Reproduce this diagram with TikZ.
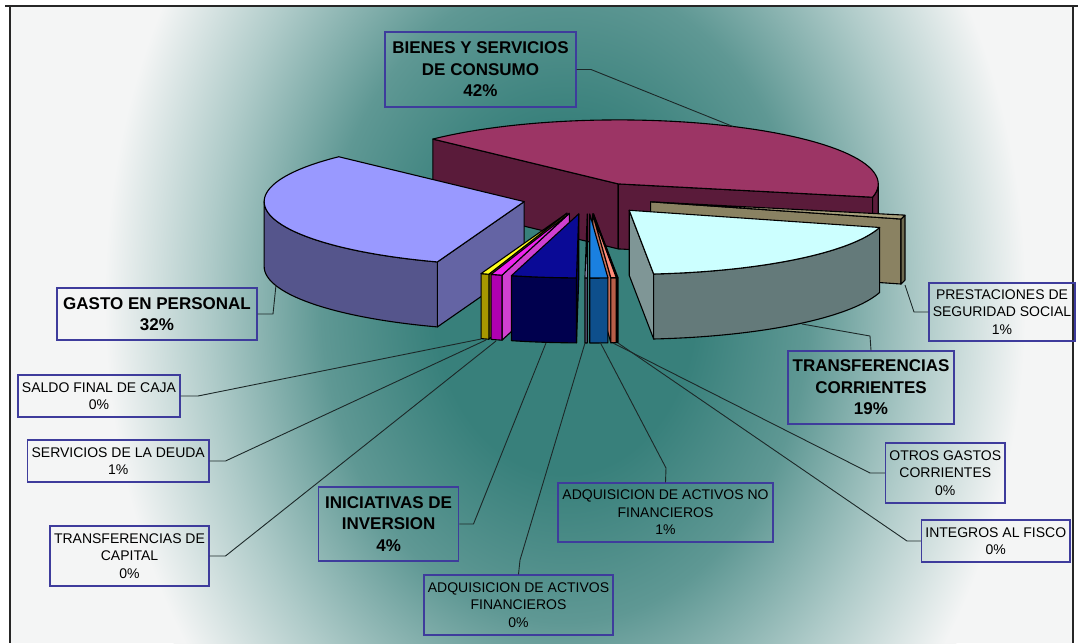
\documentclass[tikz,border=0pt]{standalone}
\usepackage{fontspec}
\setmainfont{Liberation Sans}
\usetikzlibrary{calc}

\definecolor{tealA}{RGB}{56,128,123}
\definecolor{tealB}{RGB}{95,152,148}
\definecolor{tealC}{RGB}{175,203,201}
\definecolor{bgW}{RGB}{244,245,245}
\definecolor{boxc}{RGB}{62,60,156}
\definecolor{leadc}{RGB}{28,40,40}

\pgfdeclareradialshading{bgshade}{\pgfpoint{0bp}{0bp}}{%
 color(0bp)=(tealA); color(7bp)=(tealA); color(13bp)=(tealB); color(19bp)=(tealC); color(24.5bp)=(bgW); color(50bp)=(bgW)}

% lilac
\definecolor{liTop}{HTML}{9999FF}\definecolor{liArc}{HTML}{55558C}\definecolor{liRad}{HTML}{6464A4}
% magenta
\definecolor{maTop}{HTML}{9C3565}\definecolor{maArc}{HTML}{5C1C3B}\definecolor{maRad}{HTML}{5A1B3A}
% tan
\definecolor{taTop}{HTML}{A8A07C}\definecolor{taArc}{HTML}{6E6A50}\definecolor{taRad}{HTML}{8A8262}
% cyan
\definecolor{cyTop}{HTML}{CCFFFF}\definecolor{cyArc}{HTML}{647A7A}\definecolor{cyRad}{HTML}{7F9696}
% integros
\definecolor{inTop}{HTML}{660066}\definecolor{inArc}{HTML}{3C003C}\definecolor{inRad}{HTML}{4A004A}
% otros
\definecolor{otTop}{HTML}{FF8C78}\definecolor{otArc}{HTML}{B85E48}\definecolor{otRad}{HTML}{C8705A}
% adq no fin
\definecolor{anTop}{HTML}{1A80E0}\definecolor{anArc}{HTML}{0E4F8C}\definecolor{anRad}{HTML}{0E5A9E}
% adq fin
\definecolor{afTop}{HTML}{CCCCFF}\definecolor{afArc}{HTML}{707098}\definecolor{afRad}{HTML}{8080B0}
% iniciativas
\definecolor{nvTop}{HTML}{0A0A96}\definecolor{nvArc}{HTML}{00004E}\definecolor{nvRad}{HTML}{000068}
% transf capital
\definecolor{pkTop}{HTML}{EE22EE}\definecolor{pkArc}{HTML}{B000B0}\definecolor{pkRad}{HTML}{D040D0}
% servicios deuda
\definecolor{ylTop}{HTML}{FFFF20}\definecolor{ylArc}{HTML}{A89800}\definecolor{ylRad}{HTML}{6E6400}

\tikzset{
  face/.style={draw=black, line width=1.1pt, line join=round},
  lbl/.style={draw=boxc, line width=1.3pt, align=center, inner sep=0pt,
              font=\fontsize{14}{17.5}\selectfont, text=black},
  blbl/.style={lbl, font=\fontsize{17}{21.5}\selectfont\bfseries},
  leader/.style={draw=leadc, line width=0.9pt},
  frameline/.style={draw=black!85, line width=1.8pt}
}

% #1 start angle, #2 end angle (screen angles, y down), #3 top, #4 arc face, #5 radius face
\newcommand{\pieslice}[5]{%
  \pgfmathsetmacro{\slM}{(#1+#2)/2}%
  \pgfmathsetmacro{\slCX}{587.5+65*cos(\slM)}%
  \pgfmathsetmacro{\slCY}{198+16*sin(\slM)}%
  \pgfmathtruncatemacro{\visS}{cos(#1)<0 ? 1 : 0}%
  \pgfmathtruncatemacro{\visE}{cos(#2)>0 ? 1 : 0}%
  \pgfmathsetmacro{\arcA}{max(#1,0)}%
  \pgfmathsetmacro{\arcB}{min(#2,180)}%
  \pgfmathtruncatemacro{\visA}{\arcB>\arcA ? 1 : 0}%
  \ifnum\visS=1
    \draw[face,fill=#5] (\slCX,\slCY) -- ({\slCX+260*cos(#1)},{\slCY+64*sin(#1)}) -- ++(0,65) -- (\slCX,{\slCY+65}) -- cycle;
  \fi
  \ifnum\visE=1
    \draw[face,fill=#5] (\slCX,\slCY) -- ({\slCX+260*cos(#2)},{\slCY+64*sin(#2)}) -- ++(0,65) -- (\slCX,{\slCY+65}) -- cycle;
  \fi
  \ifnum\visA=1
    \draw[face,fill=#4] plot[domain=\arcA:\arcB,samples=40,variable=\q] ({\slCX+260*cos(\q)},{\slCY+64*sin(\q)})
       -- plot[domain=\arcB:\arcA,samples=40,variable=\q] ({\slCX+260*cos(\q)},{\slCY+65+64*sin(\q)}) -- cycle;
  \fi
  \draw[face,fill=#3] (\slCX,\slCY) -- plot[domain=#1:#2,samples=60,variable=\q] ({\slCX+260*cos(\q)},{\slCY+64*sin(\q)}) -- cycle;
}

\begin{document}
\begin{tikzpicture}[x=1pt,y=-1pt]
\useasboundingbox (0,0) rectangle (1078,643);
\fill[white] (0,0) rectangle (1078,643);

% background gradient
\begin{scope}
  \clip (10,6) rectangle (1073,643);
  \fill[bgW] (10,6) rectangle (1073,643);
  \shade[shading=bgshade] (565,300) ellipse [x radius=470, y radius=620];
\end{scope}

% frame
\draw[frameline] (5,6) -- (1078,6);
\draw[frameline] (10,6) -- (10,643);
\draw[frameline, line width=1.4pt] (1073,6) -- (1073,643);

% pie slices, back to front
\pieslice{-135.5}{12}{maTop}{maArc}{maRad}      % Bienes y servicios
\pieslice{109.5}{224.5}{liTop}{liArc}{liRad}    % Gasto en personal
\pieslice{12}{15.6}{taTop}{taArc}{taRad}        % Prestaciones
\pieslice{15.6}{84.6}{cyTop}{cyArc}{cyRad}      % Transferencias corrientes
\pieslice{107.5}{109.3}{ylTop}{ylArc}{ylRad}    % Servicios de la deuda
\pieslice{105}{107.5}{pkTop}{pkArc}{pkRad}      % Transferencias de capital
\pieslice{90.5}{105}{nvTop}{nvArc}{nvRad}       % Iniciativas de inversion
\pieslice{84.6}{84.8}{inTop}{inArc}{inRad}      % Integros al fisco
\pieslice{84.8}{86}{otTop}{otArc}{otRad}        % Otros gastos corrientes
\pieslice{86}{90}{anTop}{anArc}{anRad}          % Adq. activos no financieros
\pieslice{90}{90.5}{afTop}{afArc}{afRad}        % Adq. activos financieros

% labels
\node[blbl, minimum width=191pt, minimum height=75pt] (bienes) at (480.5,69.5) {BIENES Y SERVICIOS\\DE CONSUMO\\42\%};
\node[blbl, minimum width=200pt, minimum height=52pt] (gasto) at (157,314) {GASTO EN PERSONAL\\32\%};
\node[blbl, minimum width=166pt, minimum height=73pt] (tcorr) at (871,387.5) {TRANSFERENCIAS\\CORRIENTES\\19\%};
\node[lbl, minimum width=146pt, minimum height=58pt] (prest) at (1002,312) {PRESTACIONES DE\\SEGURIDAD SOCIAL\\1\%};
\node[lbl, minimum width=162pt, minimum height=42pt] (saldo) at (99,396) {SALDO FINAL DE CAJA\\0\%};
\node[lbl, minimum width=181.5pt, minimum height=42pt] (serv) at (118.2,461) {SERVICIOS DE LA DEUDA\\1\%};
\node[lbl, minimum width=159pt, minimum height=60pt] (tcap) at (129.5,556) {TRANSFERENCIAS DE\\CAPITAL\\0\%};
\node[blbl, minimum width=140pt, minimum height=74pt] (inic) at (388.6,524) {INICIATIVAS DE\\INVERSION\\4\%};
\node[lbl, minimum width=189pt, minimum height=60pt] (adqf) at (518.5,605) {ADQUISICION DE ACTIVOS\\FINANCIEROS\\0\%};
\node[lbl, minimum width=215pt, minimum height=59pt] (adqnf) at (665.5,512.5) {ADQUISICION DE ACTIVOS NO\\FINANCIEROS\\1\%};
\node[lbl, minimum width=119.4pt, minimum height=60pt] (otros) at (945.3,473) {OTROS GASTOS\\CORRIENTES\\0\%};
\node[lbl, minimum width=148.4pt, minimum height=42pt] (integ) at (995.8,541) {INTEGROS AL FISCO\\0\%};

% leader points
\coordinate (bienesK) at (591,69.5);   \coordinate (bienesP) at (733,126.5);
\coordinate (gastoK) at (273,314);     \coordinate (gastoP) at (276,285);
\coordinate (tcorrK) at (870,336);     \coordinate (tcorrP) at (802,324);
\coordinate (prestK) at (914,312);     \coordinate (prestP) at (905,285);
\coordinate (saldoK) at (198,396);     \coordinate (saldoP) at (481,339);
\coordinate (servK) at (225.5,461);    \coordinate (servP) at (486,340);
\coordinate (tcapK) at (225.5,556);    \coordinate (tcapP) at (496,341);
\coordinate (inicK) at (473.5,524);    \coordinate (inicP) at (546,343);
\coordinate (adqfK) at (520,560);      \coordinate (adqfP) at (585,343);
\coordinate (adqnfK) at (666,468);     \coordinate (adqnfP) at (600,342);
\coordinate (otrosK) at (870,473);     \coordinate (otrosP) at (613,343);
\coordinate (integK) at (907,541);     \coordinate (integP) at (618,343);

\draw[leader] (bienes.east) -- (bienesK) -- (bienesP);
\draw[leader] (gasto.east) -- (gastoK) -- (gastoP);
\draw[leader] (tcorr.north) -- (tcorrK) -- (tcorrP);
\draw[leader] (prest.west) -- (prestK) -- (prestP);
\draw[leader] (saldo.east) -- (saldoK) -- (saldoP);
\draw[leader] (serv.east) -- (servK) -- (servP);
\draw[leader] (tcap.east) -- (tcapK) -- (tcapP);
\draw[leader] (inic.east) -- (inicK) -- (inicP);
\draw[leader] (adqf.north) -- (adqfK) -- (adqfP);
\draw[leader] (adqnf.north) -- (adqnfK) -- (adqnfP);
\draw[leader] (otros.west) -- (otrosK) -- (otrosP);
\draw[leader] (integ.west) -- (integK) -- (integP);
\end{tikzpicture}
\end{document}
